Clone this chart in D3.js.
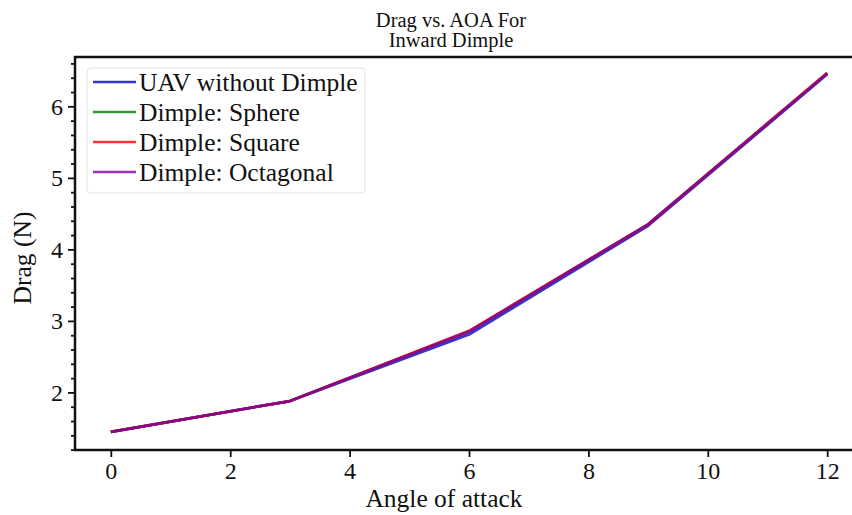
<!DOCTYPE html>
<html>
<head>
<meta charset="utf-8">
<script src="https://cdn.jsdelivr.net/npm/d3@7"></script>
<style>
  html, body { margin: 0; padding: 0; background: #fff; }
  svg { display: block; }
  svg text { font-family: "Liberation Serif", "Times New Roman", serif; }
</style>
</head>
<body>
<svg id="chart" width="852" height="515"></svg>
<script>
// Angle of attack (deg) and drag (N) for each configuration
const angles = [0, 3, 6, 9, 12];
const dragNoDimple = [1.45, 1.88, 2.81, 4.33, 6.45];
const dragSphere = [1.45, 1.88, 2.85, 4.35, 6.46];
const dragSquare = [1.45, 1.88, 2.86, 4.35, 6.47];
const dragOctagonal = [1.45, 1.88, 2.85, 4.35, 6.46];
const seriesNames = ["UAV without Dimple", "Dimple: Sphere", "Dimple: Square", "Dimple: Octagonal"];
const seriesColors = ["#0000cc", "#008000", "#ff0000", "#8000a8"];
const xTicks = [0, 2, 4, 6, 8, 10, 12];
const yTicks = [2, 3, 4, 5, 6];

const series = [dragNoDimple, dragSphere, dragSquare, dragOctagonal].map((vals, i) => ({
  name: seriesNames[i],
  color: seriesColors[i],
  points: angles.map((a, j) => ({ x: a, y: vals[j] }))
}));

const svg = d3.select("#chart");
const plotLeft = 75, plotRight = 863, plotTop = 57, plotBottom = 450;

const x = d3.scaleLinear().domain([-0.6, 12.6]).range([plotLeft, plotRight]);
const y = d3.scaleLinear().domain([1.195, 6.69]).range([plotBottom, plotTop]);

// Title (two lines)
const title = svg.append("text")
  .attr("x", 451).attr("y", 27)
  .attr("text-anchor", "middle")
  .attr("font-size", 20.5)
  .attr("fill", "#111");
title.append("tspan").attr("x", 451).text("Drag vs. AOA For");
title.append("tspan").attr("x", 451).attr("dy", 20).text("Inward Dimple");

// Data lines
const line = d3.line().x(d => x(d.x)).y(d => y(d.y));
const plot = svg.append("g");
series.forEach(s => {
  plot.append("path")
    .datum(s.points)
    .attr("fill", "none")
    .attr("stroke", s.color)
    .attr("stroke-opacity", 0.8)
    .attr("stroke-width", 2.8)
    .attr("stroke-linejoin", "round")
    .attr("d", line);
});

// Axes
const xAxis = d3.axisBottom(x).tickValues(xTicks).tickSize(7).tickPadding(5).tickFormat(d3.format("d"));
const gx = svg.append("g").attr("transform", `translate(0,${plotBottom})`).call(xAxis);

const yMinor = d3.range(1.2, 6.7, 0.2).filter(v => Math.abs(v - Math.round(v)) > 1e-6);
const gyMinor = svg.append("g").attr("transform", `translate(${plotLeft},0)`)
  .call(d3.axisLeft(y).tickValues(yMinor).tickSize(4).tickFormat(""));
const gy = svg.append("g").attr("transform", `translate(${plotLeft},0)`)
  .call(d3.axisLeft(y).tickValues(yTicks).tickSize(7).tickPadding(5).tickFormat(d3.format("d")));

[gx, gy, gyMinor].forEach(g => {
  g.attr("font-family", null).attr("font-size", 24);
  g.select(".domain").remove();
  g.selectAll(".tick line").attr("stroke", "#111").attr("stroke-width", 1.8);
  g.selectAll(".tick text").attr("fill", "#111");
});

// Spines: left, bottom and top
const spine = (x1, y1, x2, y2) => svg.append("line")
  .attr("x1", x1).attr("y1", y1).attr("x2", x2).attr("y2", y2)
  .attr("stroke", "#111").attr("stroke-width", 2.5);
spine(plotLeft, plotTop - 1, plotLeft, plotBottom + 1);
spine(plotLeft - 1, plotBottom, plotRight, plotBottom);
spine(plotLeft - 1, plotTop, plotRight, plotTop);

// Axis titles
svg.append("text")
  .attr("x", 444).attr("y", 507)
  .attr("text-anchor", "middle")
  .attr("font-size", 25.5).attr("fill", "#111")
  .text("Angle of attack");
svg.append("text")
  .attr("transform", `translate(31,258) rotate(-90)`)
  .attr("text-anchor", "middle")
  .attr("font-size", 25.5).attr("fill", "#111")
  .text("Drag (N)");

// Legend
const legend = svg.append("g").attr("transform", "translate(87,68)");
legend.append("rect")
  .attr("width", 278).attr("height", 125)
  .attr("rx", 4).attr("ry", 4)
  .attr("fill", "#fff").attr("fill-opacity", 0.8)
  .attr("stroke", "#e2e2e2").attr("stroke-width", 1);
series.forEach((s, i) => {
  const cy = 14 + i * 30;
  legend.append("line")
    .attr("x1", 6).attr("x2", 49).attr("y1", cy).attr("y2", cy)
    .attr("stroke", s.color).attr("stroke-opacity", 0.8).attr("stroke-width", 2.6);
  legend.append("text")
    .attr("x", 52).attr("y", cy + 9)
    .attr("font-size", 25.5).attr("fill", "#111")
    .text(s.name);
});
</script>
</body>
</html>
